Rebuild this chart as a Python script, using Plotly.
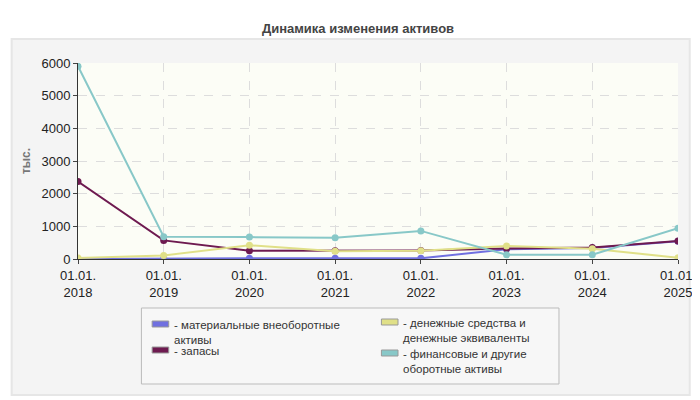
import plotly.graph_objects as go

dates = ["01.01.<br>2018", "01.01.<br>2019", "01.01.<br>2020", "01.01.<br>2021",
         "01.01.<br>2022", "01.01.<br>2023", "01.01.<br>2024", "01.01.<br>2025"]
mat_assets = [0, 20, 20, 20, 20, 300, 340, 540]
stocks = [2370, 570, 250, 250, 260, 320, 350, 550]
cash = [30, 110, 420, 240, 250, 400, 310, 40]
fin_other = [5900, 680, 670, 650, 860, 130, 130, 940]

names = ["материальные внеоборотные<br>активы", "запасы",
         "денежные средства и<br>денежные эквиваленты", "финансовые и другие<br>оборотные активы"]
colors = ["#7070e0", "#6e1a50", "#e0e088", "#88c8c8"]
series = [mat_assets, stocks, cash, fin_other]

fig = go.Figure()
for vals, c in zip(series, colors):
    fig.add_trace(go.Scatter(x=dates, y=vals, mode="lines+markers",
                             line=dict(color=c, width=2), marker=dict(size=7, color=c),
                             showlegend=False))

T, B = 55, 250
def px(x): return (x - 70) / 615
def py(y): return (B - y) / (B - T) * 1.0 if False else (B + (258 - B) - y) / 196

shapes = [
    dict(type="rect", xref="paper", yref="paper", x0=px(2), x1=px(697), y0=py(394), y1=py(38),
         fillcolor="#f4f4f4", line=dict(color="#e6e6e6"), layer="below"),
    dict(type="rect", xref="paper", yref="paper", x0=0, x1=1, y0=0, y1=1,
         fillcolor="#fcfdf6", line=dict(width=0), layer="below"),
]
shapes.append(dict(type="rect", xref="paper", yref="paper", x0=px(135), x1=px(563), y0=py(383), y1=py(307),
                   fillcolor="#f7f7f7", line=dict(color="#bbbbbb", width=1)))
ann = []
pos = [(146, 323), (146, 349), (381, 321), (381, 352)]
for (x, y), c, n in zip(pos, colors, names):
    shapes.append(dict(type="rect", xref="paper", yref="paper", x0=px(x), x1=px(x + 17),
                       y0=py(y + 3), y1=py(y - 3), fillcolor=c, line=dict(color="#999", width=1)))
    ann.append(dict(xref="paper", yref="paper", x=px(x + 20), y=py(y - 7), xanchor="left", yanchor="top",
                    text="- " + n, showarrow=False, align="left",
                    font=dict(size=11.5, color="#333", family="Arial"), yshift=0))
# tighten two-line label spacing by using smaller line height: first label placed higher
ann[0]["y"] = py(y := 316)

fig.update_layout(
    width=700, height=400, margin=dict(l=70, r=15, t=55, b=149),
    paper_bgcolor="white", plot_bgcolor="rgba(0,0,0,0)",
    title=dict(text="<b>Динамика изменения активов</b>", x=0.5, y=0.96, xanchor="center",
               font=dict(size=13, color="#444", family="Arial")),
    font=dict(family="Arial", size=12, color="#222"),
    xaxis=dict(showgrid=True, gridcolor="#dddddd", griddash="dash", showline=True, linecolor="#333",
               ticks="outside", ticklen=4, tickfont=dict(size=13), range=[0, 7]),
    yaxis=dict(range=[0, 6000], dtick=1000, showgrid=True, gridcolor="#dddddd", griddash="dash",
               showline=True, linecolor="#333", ticks="outside", ticklen=4, zeroline=False,
               tickfont=dict(size=13),
               title=dict(text="<b>тыс.</b>", font=dict(size=12, color="#777"), standoff=8)),
    shapes=shapes, annotations=ann,
)
fig.write_html("out.html")
